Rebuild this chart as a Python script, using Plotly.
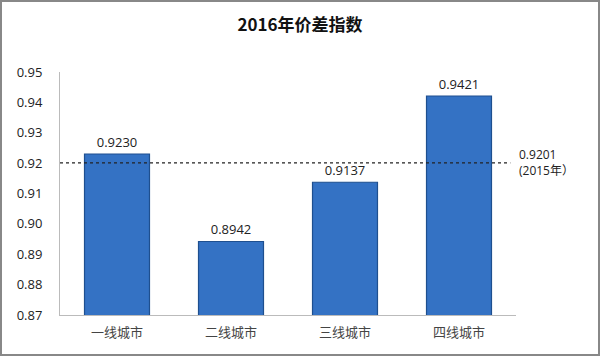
import plotly.graph_objects as go

categories = ["一线城市", "二线城市", "三线城市", "四线城市"]
values = [0.9230, 0.8942, 0.9137, 0.9421]
ref_value = 0.9201
ref_label = "0.9201<br>(2015年）"
title = "2016年价差指数"

W, H = 600, 356
ml, mr, mt, mb = 60, 84, 72, 41
pw, ph = W - ml - mr, H - mt - mb

fig = go.Figure()
fig.add_trace(go.Bar(
    x=categories, y=values, width=0.57,
    marker=dict(color="#3472C4", line=dict(color="#1E4F8F", width=1.2)),
    text=[f"{v:.4f}" for v in values], textposition="outside",
    textfont=dict(family="Open Sans, Noto Sans", size=13, color="#222"),
    cliponaxis=False, showlegend=False,
))

fig.add_shape(type="line", xref="x", yref="y", x0=-0.5, x1=3.45, y0=ref_value, y1=ref_value,
              line=dict(color="#222", width=1.2, dash="dot"))
fig.add_annotation(xref="paper", yref="y", x=(517 - ml) / pw, y=ref_value, text=ref_label,
                   showarrow=False, xanchor="left", yanchor="middle", align="left",
                   font=dict(family="Open Sans, Noto Sans CJK SC", size=12, color="#222"))

# outer border
fig.add_shape(type="rect", xref="paper", yref="paper",
              x0=(1 - ml) / pw, x1=(W - 1 - ml) / pw,
              y0=-(mb - 1) / ph, y1=1 + (mt - 1) / ph,
              line=dict(color="#888", width=2), fillcolor="rgba(0,0,0,0)", layer="below")

fig.update_layout(
    width=W, height=H,
    margin=dict(l=ml, r=mr, t=mt, b=mb, autoexpand=False),
    paper_bgcolor="white", plot_bgcolor="white",
    title=dict(text=f"<b>{title}</b>", x=0.5, xref="container", xanchor="center",
               y=1 - 25 / H, yref="container", yanchor="middle",
               font=dict(family="Noto Sans CJK SC", size=17, color="#111")),
    bargap=0.43,
)
fig.update_xaxes(showline=True, linecolor="#BBB", linewidth=1, ticks="", automargin=False,
                 ticklabelstandoff=5,
                 tickfont=dict(family="Noto Sans CJK SC", size=13, color="#444"),
                 range=[-0.5, 3.5])
fig.update_yaxes(range=[0.87, 0.95], dtick=0.01, tickformat=".2f", showgrid=False,
                 showline=True, linecolor="#BBB", linewidth=1, ticks="", zeroline=False,
                 ticklabelstandoff=14, automargin=False,
                 tickfont=dict(family="Open Sans, Noto Sans", size=13, color="#222"))

fig.write_html("out.html", config={"displayModeBar": False},
               post_script="document.body.style.margin='0';")
